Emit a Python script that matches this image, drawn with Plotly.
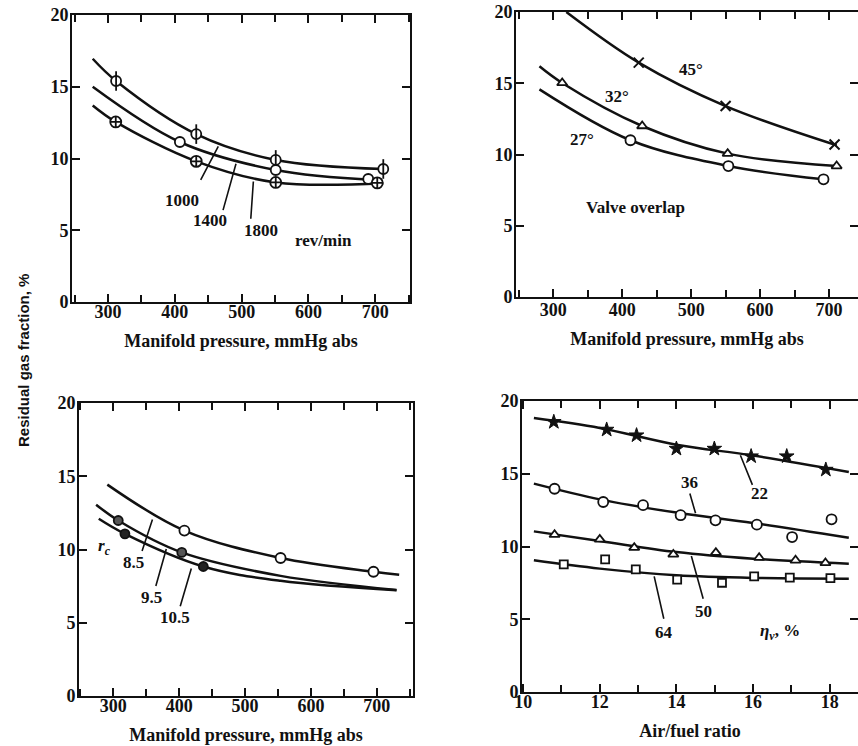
import plotly.graph_objects as go

W, H = 858, 746

# ---------------- Panel A: engine speed (rev/min) ----------------
a_labels = ["1000", "1400", "1800"]
a_pts_x = {"1000": [312, 432, 551, 712], "1400": [407.5, 551, 689.5], "1800": [311.5, 432, 551, 703]}
a_pts_y = {"1000": [15.4, 11.7, 9.9, 9.27], "1400": [11.15, 9.2, 8.57], "1800": [12.55, 9.8, 8.33, 8.3]}
a_cur_x = {"1000": [277, 312, 432, 551, 712], "1400": [277, 407.5, 551, 700], "1800": [277, 311.5, 432, 551, 712]}
a_cur_y = {"1000": [16.95, 15.4, 11.7, 9.9, 9.27], "1400": [15.0, 11.15, 9.2, 8.5], "1800": [13.7, 12.55, 9.8, 8.33, 8.28]}

# ---------------- Panel B: valve overlap ----------------
b_labels = ["45°", "32°", "27°"]
b_pts_x = {"45°": [424, 550, 708], "32°": [313, 429, 553, 711], "27°": [412, 554, 692]}
b_pts_y = {"45°": [16.45, 13.4, 10.7], "32°": [15.02, 12.0, 10.06, 9.19], "27°": [11.0, 9.19, 8.26]}
b_cur_x = {"45°": [319, 424, 550, 711], "32°": [280, 313, 429, 553, 711], "27°": [280, 412, 554, 692]}
b_cur_y = {"45°": [20.0, 16.45, 13.4, 10.65], "32°": [16.19, 15.02, 12.0, 10.06, 9.19], "27°": [14.57, 11.0, 9.19, 8.26]}

# ---------------- Panel C: compression ratio ----------------
c_labels = ["8.5", "9.5", "10.5"]
c_pts_x = {"8.5": [408, 554, 695], "9.5": [307.6, 404], "10.5": [317.7, 436.7]}
c_pts_y = {"8.5": [11.29, 9.42, 8.48], "9.5": [11.98, 9.8], "10.5": [11.07, 8.84]}
c_cur_x = {"8.5": [291, 408, 554, 695, 734], "9.5": [274, 307.6, 404, 554, 730], "10.5": [278, 317.7, 436.7, 554, 730]}
c_cur_y = {"8.5": [14.43, 11.29, 9.42, 8.48, 8.27], "9.5": [13.06, 11.98, 9.8, 8.2, 7.24], "10.5": [12.1, 11.07, 8.84, 7.86, 7.22]}

# ---------------- Panel D: air/fuel ratio, volumetric efficiency ----------------
d_labels = ["22", "36", "50", "64"]
d_pts_x = {
    "22": [10.8, 12.18, 12.96, 14.0, 14.99, 15.95, 16.88, 17.9],
    "36": [10.82, 12.09, 13.13, 14.11, 15.02, 16.1, 17.02, 18.05],
    "50": [10.82, 12.0, 12.9, 13.92, 15.03, 16.16, 17.11, 17.89],
    "64": [11.06, 12.14, 12.94, 14.02, 15.19, 16.03, 16.96, 18.02],
}
d_pts_y = {
    "22": [18.56, 18.03, 17.64, 16.72, 16.72, 16.2, 16.2, 15.28],
    "36": [13.97, 13.06, 12.84, 12.15, 11.8, 11.5, 10.65, 11.87],
    "50": [10.81, 10.49, 9.92, 9.46, 9.58, 9.23, 9.05, 8.87],
    "64": [8.77, 9.12, 8.43, 7.72, 7.51, 7.95, 7.86, 7.83],
}
d_cur_x = [10.28, 12, 14, 16, 18.5]
d_cur_y = {
    "22": [18.83, 18.15, 17.0, 16.25, 15.12],
    "36": [14.32, 13.24, 12.33, 11.62, 10.6],
    "50": [11.04, 10.38, 9.62, 9.16, 8.82],
    "64": [9.05, 8.48, 8.02, 7.84, 7.79],
}

BLACK = "#111111"
fig = go.Figure()

def curve(xs, ys, ax):
    fig.add_trace(go.Scatter(x=xs, y=ys, mode="lines", xaxis=ax[0], yaxis=ax[1],
                             line=dict(color=BLACK, width=2.5, shape="spline", smoothing=1.0),
                             showlegend=False, hoverinfo="skip"))

def marks(xs, ys, ax, symbol, size=10, fill="white", lw=1.8):
    fig.add_trace(go.Scatter(x=xs, y=ys, mode="markers", xaxis=ax[0], yaxis=ax[1],
                             marker=dict(symbol=symbol, size=size, color=fill,
                                         line=dict(color=BLACK, width=lw)),
                             showlegend=False))

A = ("x", "y"); B = ("x2", "y2"); C = ("x3", "y3"); D = ("x4", "y4")

# Panel A
for k in a_labels:
    curve(a_cur_x[k], a_cur_y[k], A)
marks(a_pts_x["1000"], a_pts_y["1000"], A, "circle")
fig.add_trace(go.Scatter(x=a_pts_x["1000"], y=a_pts_y["1000"], mode="markers", xaxis="x", yaxis="y",
                         marker=dict(symbol="line-ns", size=14, line=dict(color=BLACK, width=1.8)),
                         showlegend=False))
marks(a_pts_x["1400"], a_pts_y["1400"], A, "circle")
marks(a_pts_x["1800"], a_pts_y["1800"], A, "circle-cross", size=11)

# Panel B
for k in b_labels:
    curve(b_cur_x[k], b_cur_y[k], B)
marks(b_pts_x["45°"], b_pts_y["45°"], B, "x-thin", size=10, lw=2)
marks(b_pts_x["32°"], b_pts_y["32°"], B, "triangle-up", size=9)
marks(b_pts_x["27°"], b_pts_y["27°"], B, "circle", size=10)

# Panel C
for k in c_labels:
    curve(c_cur_x[k], c_cur_y[k], C)
marks(c_pts_x["8.5"], c_pts_y["8.5"], C, "circle", size=10)
marks(c_pts_x["9.5"], c_pts_y["9.5"], C, "circle", size=9, fill="#555555")
marks(c_pts_x["10.5"], c_pts_y["10.5"], C, "circle", size=9, fill="#222222")

# Panel D
for k in d_labels:
    curve(d_cur_x, d_cur_y[k], D)
marks(d_pts_x["22"], d_pts_y["22"], D, "star", size=11, fill=BLACK, lw=1)
marks(d_pts_x["36"], d_pts_y["36"], D, "circle", size=10)
marks(d_pts_x["50"], d_pts_y["50"], D, "triangle-up", size=9)
marks(d_pts_x["64"], d_pts_y["64"], D, "square", size=8)

SERIF = "Liberation Serif"
tickfont = dict(family=SERIF, size=18, color=BLACK, weight="bold")
titlefont = dict(family=SERIF, size=18, color=BLACK, weight="bold")

def px_x(p):
    return p / W

def px_y(p):
    return 1 - p / H

def xaxis(dom, rng, dtick, minor, title, lso=-8):
    return dict(domain=[px_x(dom[0]), min(1.0, px_x(dom[1]))], range=rng, showgrid=False, zeroline=False,
                showline=True, linecolor=BLACK, linewidth=2, mirror="ticks",
                ticks="inside", ticklen=8, tickwidth=2, tickcolor=BLACK,
                dtick=dtick, tick0=0, tickfont=tickfont, automargin=False, ticklabelstandoff=lso,
                ticklabeloverflow="allow",
                minor=dict(dtick=minor, ticks="inside", ticklen=7, tickwidth=2, tickcolor=BLACK),
                title=dict(text=title, font=titlefont, standoff=14))

def yaxis(dom, anchor):
    return dict(domain=[px_y(dom[1]), px_y(dom[0])], range=[0, 20], anchor=anchor,
                showgrid=False, zeroline=False, showline=True, linecolor=BLACK, linewidth=2,
                mirror="ticks", ticks="inside", ticklen=8, tickwidth=2, tickcolor=BLACK,
                dtick=5, tickfont=tickfont, automargin=False, ticklabelstandoff=-2,
                ticklabeloverflow="allow")

mp = "Manifold pressure, mmHg abs"
fig.update_layout(
    width=W, height=H, margin=dict(l=0, r=0, t=0, b=0, autoexpand=False),
    paper_bgcolor="white", plot_bgcolor="white", showlegend=False,
    xaxis=dict(**xaxis((72, 410), [246, 752], 100, 50, mp), anchor="y"),
    yaxis=yaxis((15, 302), "x"),
    xaxis2=dict(**xaxis((516, 859), [246, 742], 100, 50, mp, lso=-5), anchor="y2"),
    yaxis2=yaxis((12, 297), "x2"),
    xaxis3=dict(**xaxis((79, 413), [248, 755], 100, 50, mp), anchor="y3"),
    yaxis3=yaxis((403, 696), "x3"),
    xaxis4=dict(**xaxis((522, 859), [9.97, 18.74], 2, 1, "Air/fuel ratio"), anchor="y4"),
    yaxis4=yaxis((401, 692), "x4"),
)

ann = []
lab = dict(family=SERIF, size=17, color=BLACK, weight="bold")

def text(x, y, s, ax, **kw):
    ann.append(dict(x=x, y=y, xref=ax[0], yref=ax[1], text=s, showarrow=False, font=kw.pop("font", lab), **kw))

def leader(x0, y0, x1, y1, ax):
    ann.append(dict(x=x1, y=y1, ax=x0, ay=y0, xref=ax[0], yref=ax[1], axref=ax[0], ayref=ax[1],
                    text="", showarrow=True, arrowhead=0, arrowwidth=1.6, arrowcolor=BLACK))

# Panel A labels
text(410, 7.1, "1000", A); leader(437.5, 8.4, 465, 10.85, A)
text(452, 5.7, "1400", A); leader(471.5, 6.3, 491.5, 9.64, A)
text(528.5, 5.0, "1800", A); leader(513.5, 5.7, 517.5, 8.4, A)
text(622.5, 4.3, "rev/min", A)

# Panel B labels
text(500, 16.0, "45°", B)
text(392, 14.1, "32°", B)
text(341, 11.05, "27°", B)
text(420, 6.3, "Valve overlap", B)

# Panel C labels
text(287, 10.15, "<i>r</i><sub><i>c</i></sub>", C)
text(330, 9.1, "8.5", C); leader(343, 9.8, 359.5, 12.05, C)
text(358, 6.7, "9.5", C); leader(364, 7.4, 380.5, 10.03, C)
text(393.7, 5.34, "10.5", C); leader(401, 6.03, 418.5, 8.7, C)

# Panel D labels
text(16.18, 13.63, "22", D); leader(16.0, 14.13, 15.67, 16.27, D)
text(14.33, 14.43, "36", D); leader(14.34, 13.75, 14.5, 12.28, D)
text(14.71, 5.5, "50", D); leader(14.71, 6.3, 14.39, 9.35, D)
text(13.68, 4.12, "64", D); leader(13.68, 4.93, 13.42, 7.95, D)
text(16.7, 4.12, "<i>η</i><sub><i>v</i></sub>, %", D)

# common y title
ann.append(dict(x=px_x(23), y=px_y(361), xref="paper", yref="paper", xanchor="center", yanchor="middle",
                text="<b>Residual gas fraction, %</b>", showarrow=False, textangle=-90,
                font=dict(family="Liberation Sans", size=15, color=BLACK)))

fig.update_layout(annotations=ann)
fig.write_html("out.html", config={"displayModeBar": False},
               post_script="document.body.style.margin='0px';document.body.style.overflow='hidden';")
